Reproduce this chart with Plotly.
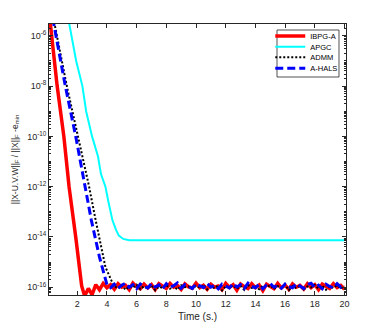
import plotly.graph_objects as go

# log10 of the error
red_t = [0.15, 0.65, 1.1, 1.45, 1.9, 2.18, 2.3]
red_v = [-5.3, -8.0, -10.0, -12.0, -14.0, -15.3, -15.95]

cyan_t = [1.3, 1.93, 2.35, 2.6, 3.0, 3.4, 3.6, 3.9, 4.1, 4.37, 4.6, 4.8, 5.1, 5.5, 20.0]
cyan_v = [-5.0, -7.0, -8.0, -9.0, -10.0, -10.8, -11.5, -12.0, -12.6, -13.33, -13.7, -13.95, -14.08, -14.13, -14.13]

black_t = [0.4, 1.3, 2.05, 2.8, 3.24, 3.9, 4.3]
black_v = [-5.3, -8.0, -10.0, -12.0, -13.33, -15.2, -15.73]

blue_t = [0.35, 1.2, 1.9, 2.55, 2.95, 3.5, 3.9]
blue_v = [-5.3, -8.0, -10.0, -12.0, -13.33, -14.8, -15.73]

# noisy floor after convergence
t_floor = [2.5, 2.75, 3.0, 3.25, 3.5, 3.75, 4.0, 4.25, 4.5, 4.75, 5.0, 5.25, 5.5, 5.75,
           6.0, 6.25, 6.5, 6.75, 7.0, 7.25, 7.5, 7.75, 8.0, 8.25, 8.5, 8.75, 9.0, 9.25,
           9.5, 9.75, 10.0, 10.25, 10.5, 10.75, 11.0, 11.25, 11.5, 11.75, 12.0, 12.25,
           12.5, 12.75, 13.0, 13.25, 13.5, 13.75, 14.0, 14.25, 14.5, 14.75, 15.0, 15.25,
           15.5, 15.75, 16.0, 16.25, 16.5, 16.75, 17.0, 17.25, 17.5, 17.75, 18.0, 18.25,
           18.5, 18.75, 19.0, 19.25, 19.5, 19.75, 20.0]

red_floor = [-16.35, -16.05, -16.3, -15.9, -16.1, -15.85, -16.02, -15.9, -16.08, -15.86,
             -16.0, -15.92, -16.1, -15.84, -15.98, -16.06, -15.88, -16.03, -15.9, -16.1,
             -15.86, -15.97, -16.05, -15.85, -16.0, -15.93, -16.09, -15.87, -15.99, -16.04,
             -15.84, -16.02, -15.92, -16.08, -15.88, -16.0, -15.95, -16.1, -15.85, -16.01,
             -15.9, -16.12, -15.87, -15.98, -16.05, -15.86, -16.02, -15.91, -16.14, -15.88,
             -15.99, -16.06, -15.85, -16.03, -15.92, -16.09, -15.87, -16.0, -15.93, -16.07,
             -15.86, -16.02, -15.9, -16.1, -15.88, -15.97, -16.05, -15.86, -16.01, -15.93,
             -16.08]

blue_floor = [-15.9, -16.02, -15.88, -16.05, -15.92, -15.84, -16.0, -15.9, -16.06, -15.87,
              -15.97, -16.03, -15.85, -15.99, -15.91, -16.07, -15.86, -16.0, -15.94, -15.83,
              -16.04, -15.9, -15.98, -16.05, -15.87, -15.95, -16.02, -15.85, -16.0, -15.92,
              -16.06, -15.88, -15.96, -16.03, -15.86, -15.99, -15.9, -16.05, -15.84, -15.97,
              -16.02, -15.89, -16.06, -15.91, -15.85, -16.0, -15.93, -16.04, -15.87, -15.98,
              -16.02, -15.86, -15.95, -16.05, -15.9, -15.84, -16.01, -15.92, -16.06, -15.88,
              -15.97, -16.03, -15.86, -16.0, -15.9]

black_floor = [-15.95, -16.05, -15.92, -16.1, -15.97, -16.02, -15.9, -16.08, -15.96, -16.04,
               -15.93, -16.12, -15.98, -16.03, -15.91, -16.06, -15.95, -16.1, -15.92, -16.0,
               -15.97, -16.07, -15.94, -16.02, -15.9, -16.09, -15.96, -16.04, -15.93, -16.13,
               -15.97, -16.01, -15.92, -16.06, -15.95, -16.11, -15.91, -16.03, -15.98, -16.08,
               -15.94, -16.0, -15.92, -16.07, -15.96, -16.02, -15.9, -16.12, -15.95, -16.04,
               -15.93, -16.09, -15.97, -16.01, -15.91, -16.06, -15.94, -16.1, -15.96, -16.03,
               -15.92, -16.05, -15.95]

x_ticks = [2, 4, 6, 8, 10, 12, 14, 16, 18, 20]
y_exps = [-16, -14, -12, -10, -8, -6]


def series(t, v, floor):
    tt = t + t_floor[-len(floor):]
    vv = v + floor
    return tt, [10 ** e for e in vv]


fig = go.Figure()

rt, rv = series(red_t, red_v, red_floor)
fig.add_trace(go.Scatter(x=rt, y=rv, mode="lines", name="IBPG-A", legend="legend",
                         line=dict(color="#ff0000", width=3.5)))

fig.add_trace(go.Scatter(x=cyan_t, y=[10 ** e for e in cyan_v], mode="lines", name="APGC",
                         legend="legend2", line=dict(color="#00ffff", width=2)))

kt, kv = series(black_t, black_v, black_floor)
fig.add_trace(go.Scatter(x=kt, y=kv, mode="lines", name="ADMM", legend="legend3",
                         line=dict(color="#000000", width=2, dash="2px,2px")))

bt, bv = series(blue_t, blue_v, blue_floor)
fig.add_trace(go.Scatter(x=bt, y=bv, mode="lines", name="A-HALS", legend="legend4",
                         line=dict(color="#0000ff", width=3, dash="8px,4px")))

axis_common = dict(showline=True, linecolor="#262626", linewidth=0.8, mirror="ticks",
                   ticks="inside", tickcolor="#262626", ticklen=4, showgrid=False,
                   zeroline=False, automargin=False, tickfont=dict(size=9, color="#262626"))

fig.update_xaxes(range=[0.1, 20.1], tickvals=x_ticks, **axis_common,
                 title=dict(text="Time (s.)", font=dict(size=10, color="#262626"), standoff=5))
fig.update_yaxes(type="log", range=[-16.31, -5.53],
                 tickvals=[10 ** e for e in y_exps],
                 ticktext=["10<sup>%d</sup>" % e for e in y_exps],
                 minor=dict(ticks="inside", ticklen=2, tickcolor="#262626", dtick="D1"),
                 **axis_common,
                 title=dict(text="||X-U.V.W||<sub>F</sub> / ||X||<sub>F</sub> -e<sub>min</sub>",
                            font=dict(size=8.5, color="#262626"), standoff=7))

# legend box (one entry per legend to get MATLAB-like tight spacing)
fig.add_shape(type="rect", xref="paper", yref="paper", x0=0.7677, x1=0.9764, y0=0.8044, y1=0.9779,
              line=dict(color="#262626", width=0.8), fillcolor="white", layer="above")

leg_common = dict(x=0.745, xanchor="left", yanchor="middle", bgcolor="rgba(0,0,0,0)",
                  borderwidth=0, font=dict(size=7.5, color="#000000"), itemwidth=30)

# the page has an 8px body margin, so the figure is made 8px smaller
fig.update_layout(
    template="none",
    width=374, height=324,
    margin=dict(l=41, r=36, t=16, b=37),
    paper_bgcolor="white", plot_bgcolor="white",
    font=dict(family="Liberation Sans, Arial, sans-serif", size=9, color="#262626"),
    showlegend=True,
    legend=dict(y=0.9557, **leg_common),
    legend2=dict(y=0.9162, **leg_common),
    legend3=dict(y=0.8771, **leg_common),
    legend4=dict(y=0.8365, **leg_common),
)

fig.write_html("out.html")
